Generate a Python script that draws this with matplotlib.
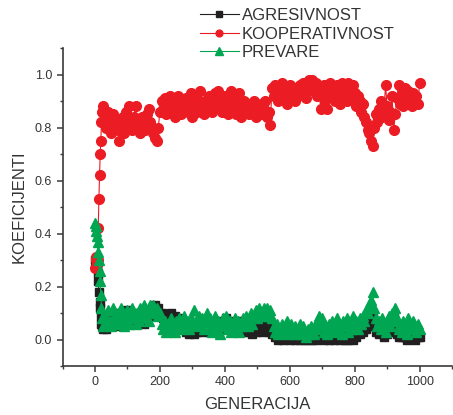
import numpy as np
import matplotlib
matplotlib.use("Agg")
import matplotlib.pyplot as plt
from matplotlib.ticker import MultipleLocator

plt.rcParams["font.family"] = ["Liberation Sans", "DejaVu Sans"]

# generations: fine steps during the initial transition, then every 5
gen_early = [0, 2, 4, 6, 8, 10, 12, 14, 16, 18, 20, 22]
gen_main = list(range(25, 1001, 5))
generacija = gen_early + gen_main

agresivnost = [
    0.30, 0.29, 0.28, 0.27, 0.25, 0.22, 0.18, 0.14, 0.12, 0.09, 0.06, 0.05,
    0.04, 0.06, 0.04, 0.08, 0.05, 0.07, 0.10, 0.06, 0.08, 0.05,
    0.09, 0.07, 0.10, 0.06, 0.08, 0.11, 0.07, 0.09, 0.06, 0.10,
    0.08, 0.06, 0.09, 0.07, 0.10, 0.06, 0.08, 0.07, 0.10, 0.09,
    0.12, 0.10, 0.13, 0.11, 0.12, 0.09, 0.10, 0.08, 0.09, 0.07,
    0.09, 0.08, 0.10, 0.07, 0.09, 0.06, 0.08, 0.05, 0.07, 0.06,
    0.04, 0.03, 0.05, 0.02, 0.03, 0.04, 0.02, 0.05, 0.03, 0.04,
    0.05, 0.03, 0.06, 0.04, 0.05, 0.03, 0.06, 0.04, 0.05, 0.07,
    0.05, 0.03, 0.06, 0.04, 0.07, 0.05, 0.08, 0.06, 0.04, 0.07,
    0.05, 0.03, 0.06, 0.04, 0.07, 0.05, 0.03, 0.06, 0.04, 0.05,
    0.03, 0.05, 0.02, 0.04, 0.03, 0.05, 0.04, 0.06, 0.03, 0.05,
    0.04, 0.06, 0.03, 0.05, 0.02, 0.03, 0.01, 0.02, 0.00, 0.01,
    0.02, 0.00, 0.01, 0.03, 0.01, 0.00, 0.02, 0.01, 0.00, 0.02,
    0.01, 0.00, 0.02, 0.01, 0.00, 0.01, 0.00, 0.02, 0.01, 0.00,
    0.01, 0.00, 0.02, 0.01, 0.03, 0.01, 0.00, 0.02, 0.01, 0.00,
    0.01, 0.02, 0.00, 0.01, 0.03, 0.01, 0.00, 0.02, 0.01, 0.00,
    0.01, 0.00, 0.02, 0.01, 0.00, 0.02, 0.01, 0.03, 0.02, 0.04,
    0.03, 0.05, 0.04, 0.06, 0.05, 0.07, 0.08, 0.05, 0.03, 0.04,
    0.02, 0.04, 0.03, 0.01, 0.03, 0.02, 0.05, 0.03, 0.06, 0.08,
    0.05, 0.02, 0.01, 0.03, 0.01, 0.02, 0.01, 0.00, 0.02, 0.01,
    0.02, 0.01, 0.00, 0.02, 0.01, 0.01,
]

kooperativnost = [
    0.27, 0.30, 0.31, 0.28, 0.30, 0.42, 0.53, 0.62, 0.70, 0.75, 0.82, 0.86,
    0.88, 0.84, 0.80, 0.86, 0.82, 0.78, 0.85, 0.81, 0.83, 0.79,
    0.75, 0.80, 0.84, 0.78, 0.86, 0.82, 0.88, 0.81, 0.79, 0.84,
    0.88, 0.80, 0.83, 0.78, 0.84, 0.81, 0.79, 0.85, 0.87, 0.82,
    0.80, 0.78, 0.76, 0.75, 0.80, 0.86, 0.90, 0.87, 0.91, 0.85,
    0.88, 0.92, 0.86, 0.90, 0.84, 0.89, 0.92, 0.87, 0.85, 0.90,
    0.88, 0.91, 0.86, 0.89, 0.93, 0.84, 0.88, 0.91, 0.86, 0.89,
    0.94, 0.88, 0.85, 0.90, 0.87, 0.92, 0.89, 0.86, 0.91, 0.93,
    0.88, 0.94, 0.90, 0.86, 0.89, 0.92, 0.87, 0.85, 0.90, 0.94,
    0.91, 0.88, 0.85, 0.89, 0.93, 0.84, 0.87, 0.90, 0.86, 0.88,
    0.85, 0.89, 0.86, 0.90, 0.84, 0.88, 0.86, 0.89, 0.85, 0.87,
    0.90, 0.84, 0.86, 0.81, 0.95, 0.92, 0.96, 0.93, 0.90, 0.94,
    0.97, 0.91, 0.95, 0.89, 0.93, 0.96, 0.91, 0.94, 0.90, 0.95,
    0.92, 0.96, 0.93, 0.97, 0.94, 0.91, 0.96, 0.98, 0.95, 0.98,
    0.94, 0.97, 0.92, 0.95, 0.87, 0.93, 0.96, 0.90, 0.87, 0.94,
    0.97, 0.92, 0.95, 0.90, 0.96, 0.93, 0.89, 0.97, 0.92, 0.95,
    0.90, 0.97, 0.94, 0.91, 0.96, 0.93, 0.88, 0.92, 0.90, 0.86,
    0.89, 0.84, 0.82, 0.79, 0.78, 0.75, 0.73, 0.80, 0.85, 0.82,
    0.87, 0.90, 0.84, 0.86, 0.96, 0.88, 0.83, 0.86, 0.92, 0.79,
    0.85, 0.91, 0.96, 0.89, 0.93, 0.88, 0.95, 0.90, 0.94, 0.91,
    0.88, 0.93, 0.90, 0.92, 0.89, 0.97,
]

prevare = [
    0.44, 0.43, 0.41, 0.39, 0.37, 0.33, 0.30, 0.26, 0.22, 0.17, 0.12, 0.08,
    0.05, 0.09, 0.06, 0.11, 0.07, 0.05, 0.12, 0.08, 0.06, 0.10,
    0.07, 0.12, 0.09, 0.05, 0.08, 0.11, 0.06, 0.09, 0.12, 0.08,
    0.06, 0.10, 0.07, 0.12, 0.09, 0.13, 0.08, 0.11, 0.07, 0.13,
    0.10, 0.13, 0.11, 0.12, 0.09, 0.10, 0.06, 0.04, 0.07, 0.03,
    0.06, 0.04, 0.08, 0.05, 0.03, 0.07, 0.05, 0.08, 0.04, 0.06,
    0.09, 0.05, 0.07, 0.04, 0.08, 0.06, 0.11, 0.07, 0.05, 0.09,
    0.06, 0.08, 0.04, 0.07, 0.10, 0.05, 0.08, 0.03, 0.06, 0.09,
    0.04, 0.07, 0.02, 0.05, 0.08, 0.06, 0.09, 0.04, 0.07, 0.03,
    0.06, 0.08, 0.04, 0.07, 0.03, 0.05, 0.08, 0.06, 0.09, 0.05,
    0.07, 0.10, 0.06, 0.09, 0.11, 0.08, 0.12, 0.10, 0.09, 0.12,
    0.10, 0.12, 0.09, 0.11, 0.08, 0.05, 0.03, 0.06, 0.02, 0.04,
    0.06, 0.03, 0.05, 0.07, 0.02, 0.04, 0.06, 0.03, 0.05, 0.02,
    0.04, 0.06, 0.02, 0.05, 0.03, 0.01, 0.04, 0.02, 0.05, 0.03,
    0.02, 0.04, 0.07, 0.09, 0.06, 0.08, 0.03, 0.05, 0.02, 0.06,
    0.04, 0.07, 0.03, 0.05, 0.08, 0.04, 0.06, 0.02, 0.07, 0.05,
    0.08, 0.03, 0.06, 0.04, 0.09, 0.05, 0.07, 0.04, 0.08, 0.06,
    0.09, 0.07, 0.11, 0.10, 0.13, 0.15, 0.18, 0.12, 0.08, 0.05,
    0.07, 0.04, 0.08, 0.06, 0.03, 0.07, 0.09, 0.05, 0.10, 0.07,
    0.12, 0.08, 0.04, 0.06, 0.03, 0.07, 0.05, 0.02, 0.08, 0.06,
    0.04, 0.07, 0.05, 0.03, 0.06, 0.04,
]

BLACK = "#231f20"
RED = "#ec1c24"
GREEN = "#00a651"
AXIS = "#3a3a3a"

fig = plt.figure(figsize=(4.53, 4.15), dpi=100)
ax = fig.add_axes([0.138, 0.118, 0.86, 0.766])

ax.plot(generacija, agresivnost, color=BLACK, lw=0.8, marker="s", ms=6,
        mec=BLACK, label="AGRESIVNOST")
ax.plot(generacija, kooperativnost, color=RED, lw=0.8, marker="o", ms=7,
        mec=RED, label="KOOPERATIVNOST")
ax.plot(generacija, prevare, color=GREEN, lw=0.8, marker="^", ms=7.5,
        mec=GREEN, label="PREVARE")

ax.set_xlim(-100, 1100)
ax.set_ylim(-0.1, 1.1)
ax.set_xticks([0, 200, 400, 600, 800, 1000])
ax.set_yticks([0.0, 0.2, 0.4, 0.6, 0.8, 1.0])
ax.xaxis.set_minor_locator(MultipleLocator(100))
ax.yaxis.set_minor_locator(MultipleLocator(0.1))
ax.yaxis.set_major_formatter(plt.FormatStrFormatter("%.1f"))

for s in ["top", "right"]:
    ax.spines[s].set_visible(False)
for s in ["left", "bottom"]:
    ax.spines[s].set_color(AXIS)
    ax.spines[s].set_linewidth(1.2)
ax.tick_params(which="major", direction="out", length=4, width=1.1,
               color=AXIS, labelsize=9, labelcolor="#333333")
ax.tick_params(which="minor", direction="out", length=2.5, width=1.0, color=AXIS)

ax.set_xlabel("GENERACIJA", fontsize=12, color="#333333", labelpad=6)
ax.set_ylabel("KOEFICIJENTI", fontsize=12, color="#333333", labelpad=6)

fig.legend(loc="upper left", bbox_to_anchor=(0.42, 1.005), frameon=False,
           fontsize=12, handlelength=2.3, handletextpad=0.2, markerscale=0.7,
           labelspacing=0.22, borderpad=0.1, labelcolor="#333333")

fig.savefig("out.png", dpi=100)
